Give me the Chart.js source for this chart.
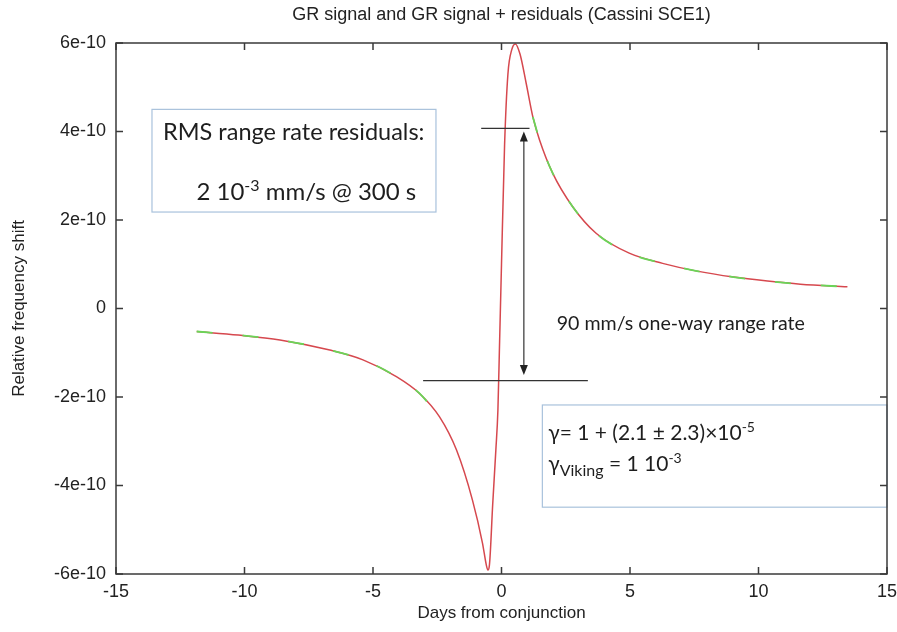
<!DOCTYPE html>
<html>
<head>
<meta charset="utf-8">
<title>GR signal and GR signal + residuals (Cassini SCE1)</title>
<script src="https://cdn.jsdelivr.net/npm/chart.js@4"></script>
<style>
  html, body { margin: 0; padding: 0; background: #fff; }
  #wrap { width: 897px; height: 632px; }
</style>
</head>
<body>
<div id="wrap"><canvas id="grChart" width="897" height="632"></canvas></div>
<script>
// days from conjunction and relative frequency shift (in units of 1e-10)
const days = [-11.86, -10.24, -8.62, -6.68, -5.39, -4.09, -3.19, -2.41, -1.75, -1.13, -0.74, -0.59, -0.53, -0.47,
  -0.34, -0.22, -0.14, -0.08, 0.0, 0.12, 0.25, 0.40, 0.54, 0.72, 0.96, 1.22, 1.48, 1.99, 2.77, 3.68, 4.97, 6.27,
  7.56, 9.03, 10.35, 11.63, 13.46];
const grSignal = [-0.52, -0.60, -0.71, -0.94, -1.16, -1.54, -1.92, -2.45, -3.20, -4.33, -5.30, -5.80, -5.91, -5.80,
  -4.40, -3.20, -2.30, -0.90, 1.00, 3.70, 5.30, 5.85, 5.98, 5.75, 5.09, 4.33, 3.81, 3.06, 2.30, 1.70, 1.25, 1.02,
  0.85, 0.71, 0.62, 0.55, 0.49];

// GR signal + residuals: only visible (green) on the outer wings, null breaks the line
const resDays = [-11.86, -10.24, -8.62, -6.68, -5.39, -4.09, -3.19, -2.41, 0,
  1.22, 1.48, 1.99, 2.77, 3.68, 4.97, 6.27, 7.56, 9.03, 10.35, 11.63, 13.46];
const resSignal = [-0.52, -0.60, -0.71, -0.94, -1.16, -1.54, -1.92, -2.45, null,
  4.33, 3.81, 3.06, 2.30, 1.70, 1.25, 1.02, 0.85, 0.71, 0.62, 0.55, 0.49];

const xTicks = [-15, -10, -5, 0, 5, 10, 15];
const yTicks = [-6, -4, -2, 0, 2, 4, 6];

const textFont = 'Lato, "Open Sans", sans-serif';
const axisFont = '"Liberation Sans", Arial, sans-serif';

function richText(ctx, parts, x, y, size) {
  let cx = x;
  parts.forEach(p => {
    const s = p.sup ? Math.round(size * 0.66) : (p.sub ? Math.round(size * 0.74) : size);
    ctx.font = s + 'px ' + textFont;
    const dy = p.sup ? -size * 0.38 : (p.sub ? size * 0.22 : 0);
    ctx.fillText(p.t, cx, y + dy);
    cx += ctx.measureText(p.t).width;
  });
}

// boxes, range lines, arrow, labels and the gnuplot style frame with inward ticks
const notesPlugin = {
  id: 'notes',
  afterDraw(chart) {
    const { ctx, chartArea: a, scales: { x, y } } = chart;
    const px = v => x.getPixelForValue(v);
    const py = v => y.getPixelForValue(v);
    ctx.save();

    // text boxes
    ctx.lineWidth = 1.2;
    ctx.strokeStyle = '#a9c2dc';
    ctx.fillStyle = '#fff';
    [[-13.6, 4.50, -2.55, 2.18], [1.59, -2.18, 15, -4.49]].forEach(b => {
      const x1 = px(b[0]), y1 = py(b[1]), x2 = px(b[2]), y2 = py(b[3]);
      ctx.fillRect(x1, y1, x2 - x1, y2 - y1);
      ctx.strokeRect(x1, y1, x2 - x1, y2 - y1);
    });

    // range lines + double arrow
    ctx.strokeStyle = '#333';
    ctx.lineWidth = 1.2;
    ctx.beginPath();
    ctx.moveTo(px(-0.79), py(4.07)); ctx.lineTo(px(1.09), py(4.07));
    ctx.moveTo(px(-3.05), py(-1.63)); ctx.lineTo(px(3.36), py(-1.63));
    const ax = px(0.87), aTop = py(4.0), aBot = py(-1.5);
    ctx.moveTo(ax, aTop + 8); ctx.lineTo(ax, aBot - 8);
    ctx.stroke();
    ctx.fillStyle = '#222';
    ctx.beginPath();
    ctx.moveTo(ax, aTop); ctx.lineTo(ax - 4, aTop + 10); ctx.lineTo(ax + 4, aTop + 10); ctx.closePath();
    ctx.moveTo(ax, aBot); ctx.lineTo(ax - 4, aBot - 10); ctx.lineTo(ax + 4, aBot - 10); ctx.closePath();
    ctx.fill();

    // labels
    ctx.fillStyle = '#1e1e1e';
    ctx.textBaseline = 'alphabetic';
    ctx.textAlign = 'left';
    richText(ctx, [{ t: 'RMS range rate residuals:' }], px(-13.17), py(3.81), 23.5);
    richText(ctx, [{ t: '2 10' }, { t: '-3', sup: true }, { t: ' mm/s @ 300 s' }], px(-11.87), py(2.45), 24);
    richText(ctx, [{ t: '90 mm/s one-way range rate' }], px(2.15), py(-0.49), 19.6);
    richText(ctx, [{ t: 'γ= 1 + (2.1 ± 2.3)×10' }, { t: '-5', sup: true }], px(1.82), py(-2.97), 21);
    richText(ctx, [{ t: 'γ' }, { t: 'Viking', sub: true }, { t: ' = 1 10' }, { t: '-3', sup: true }], px(1.82), py(-3.67), 21);

    // frame and inward ticks
    ctx.strokeStyle = '#3a3a3a';
    ctx.lineWidth = 1.5;
    ctx.strokeRect(a.left, a.top, a.right - a.left, a.bottom - a.top);
    ctx.beginPath();
    xTicks.forEach(t => {
      const p = px(t);
      ctx.moveTo(p, a.bottom); ctx.lineTo(p, a.bottom - 7);
      ctx.moveTo(p, a.top); ctx.lineTo(p, a.top + 7);
    });
    yTicks.forEach(v => {
      const p = py(v);
      ctx.moveTo(a.left, p); ctx.lineTo(a.left + 7, p);
      ctx.moveTo(a.right, p); ctx.lineTo(a.right - 7, p);
    });
    ctx.stroke();
    ctx.restore();
  }
};

const ctx = document.getElementById('grChart').getContext('2d');
new Chart(ctx, {
  type: 'line',
  data: {
    datasets: [
      {
        label: 'GR signal + residuals',
        data: resDays.map((d, i) => ({ x: d, y: resSignal[i] })),
        borderColor: 'rgb(105, 214, 88)',
        borderWidth: 1.8,
        borderDash: [16, 30],
        pointRadius: 0,
        cubicInterpolationMode: 'monotone',
        spanGaps: false,
        order: 1
      },
      {
        label: 'GR signal',
        data: days.map((d, i) => ({ x: d, y: grSignal[i] })),
        borderColor: 'rgb(214, 72, 78)',
        borderWidth: 1.5,
        pointRadius: 0,
        cubicInterpolationMode: 'monotone',
        order: 2
      }
    ]
  },
  options: {
    responsive: false,
    animation: false,
    layout: { padding: { left: 0, right: 10, top: 0, bottom: 0 } },
    plugins: {
      legend: { display: false },
      tooltip: { enabled: false },
      title: {
        display: true,
        fullSize: false, // centre over the plot area like the original
        text: 'GR signal and GR signal + residuals (Cassini SCE1)',
        color: '#222',
        font: { family: axisFont, size: 18, weight: 'normal' },
        padding: { top: 4, bottom: 17.4 }
      }
    },
    scales: {
      x: {
        type: 'linear',
        min: -15,
        max: 15,
        afterFit: s => { s.height = 58; s.paddingLeft = 0; s.paddingRight = 0; },
        afterBuildTicks: s => { s.ticks = xTicks.map(v => ({ value: v })); },
        grid: { display: false, drawTicks: false },
        border: { display: false },
        ticks: {
          color: '#222',
          padding: 7,
          maxRotation: 0,
          font: { family: axisFont, size: 18 }
        },
        title: {
          display: true,
          text: 'Days from conjunction',
          color: '#222',
          font: { family: axisFont, size: 17 },
          padding: { top: 8, bottom: 8 }
        }
      },
      y: {
        type: 'linear',
        min: -6,
        max: 6,
        afterFit: s => { s.width = 116; s.paddingTop = 0; s.paddingBottom = 0; },
        afterBuildTicks: s => { s.ticks = yTicks.map(v => ({ value: v })); },
        grid: { display: false, drawTicks: false },
        border: { display: false },
        ticks: {
          color: '#222',
          padding: 10,
          font: { family: axisFont, size: 18 },
          callback: v => (v === 0 ? '0' : v + 'e-10')
        },
        title: {
          display: true,
          text: 'Relative frequency shift',
          color: '#222',
          font: { family: axisFont, size: 17 },
          padding: { top: 9, bottom: 9 }
        }
      }
    }
  },
  plugins: [notesPlugin]
});
</script>
</body>
</html>
